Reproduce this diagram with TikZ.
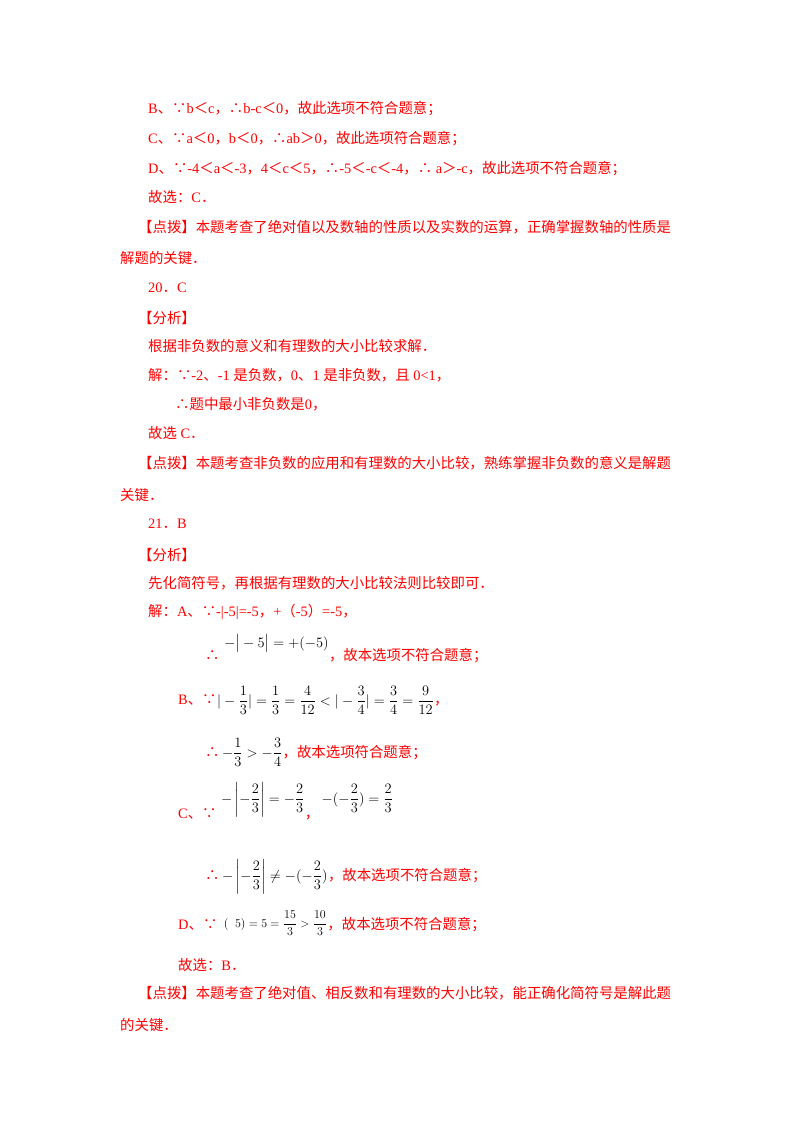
\documentclass[tikz,border=0pt]{standalone}
\usepackage{amsmath}
\usepackage{fontspec}
\setmainfont{Liberation Serif}
\newfontfamily\cj{Noto Sans CJK SC}
\newcommand{\cc}[1]{{\cj #1}}
\begin{document}
\begin{tikzpicture}[x=1pt,y=-1pt,
  t/.style={anchor=base west,inner sep=0pt,text=red,font=\fontsize{14.4}{17}\selectfont},
  m/.style={anchor=base west,inner sep=0pt,text=black,font=\fontsize{15}{18}\selectfont}]
\useasboundingbox (0,0) rectangle (800,1132);
\node[t] (l1) at (148,113) {B\cc{、∵}b\cc{＜}c\cc{，∴}b-c\cc{＜}0\cc{，故此选项不符合题意；}};
\node[t] (l2) at (148,143) {C\cc{、∵}a\cc{＜}0\cc{，}b\cc{＜}0\cc{，∴}ab\cc{＞}0\cc{，故此选项符合题意；}};
\node[t] (l3) at (148,173) {D\cc{、∵}-4\cc{＜}a\cc{＜}-3\cc{，}4\cc{＜}c\cc{＜}5\cc{，∴}-5\cc{＜}-c\cc{＜}-4\cc{，∴} a\cc{＞}-c\cc{，故此选项不符合题意；}};
\node[t] (l4) at (148,202) {\cc{故选：}C\cc{．}};
\node[t] (l5) at (138,232) {\cc{【点拨】本题考查了绝对值以及数轴的性质以及实数的运算，正确掌握数轴的性质是}};
\node[t] (l6) at (120,263) {\cc{解题的关键．}};
\node[t] (l7) at (148,292) {20\cc{．}C};
\node[t] (l8) at (138,323) {\cc{【分析】}};
\node[t] (l9) at (148,351) {\cc{根据非负数的意义和有理数的大小比较求解．}};
\node[t] (l10) at (148,380) {\cc{解：∵}-2\cc{、}-1 \cc{是负数，}0\cc{、}1 \cc{是非负数，且} 0<1\cc{，}};
\node[t] (l11) at (175,409) {\cc{∴题中最小非负数是}0\cc{，}};
\node[t] (l12) at (148,438) {\cc{故选} C\cc{．}};
\node[t] (l13) at (138,468) {\cc{【点拨】本题考查非负数的应用和有理数的大小比较，熟练掌握非负数的意义是解题}};
\node[t] (l14) at (120,500) {\cc{关键．}};
\node[t] (l15) at (148,528) {21\cc{．}B};
\node[t] (l16) at (138,560) {\cc{【分析】}};
\node[t] (l17) at (148,588) {\cc{先化简符号，再根据有理数的大小比较法则比较即可．}};
\node[t] (l18) at (148,616) {\cc{解：}A\cc{、∵}-|-5|=-5\cc{，}+\cc{（}-5\cc{）}=-5\cc{，}};
% A conclusion
\node[t] (a1) at (205,660) {\cc{∴}};
\node[m,yshift=13pt] (a2) at ([xshift=4pt]a1.base east) {$-\big|-5\big|=+(-5)$};
\node[t] (a3) at (a2.base east |- a1.base) {\cc{，故本选项不符合题意；}};
% B
\node[t] (b1) at (178,704) {B\cc{、∵}};
\node[m] (b2) at ([yshift=-1pt]b1.base east) {$|-\dfrac{1}{3}|=\dfrac{1}{3}=\dfrac{4}{12}<|-\dfrac{3}{4}|=\dfrac{3}{4}=\dfrac{9}{12}$};
\node[t] (b3) at (b2.base east |- b1.base) {\cc{，}};
\node[t] (b4) at (205,757) {\cc{∴}};
\node[m] (b5) at ([xshift=2pt]b4.base east) {$-\dfrac{1}{3}>-\dfrac{3}{4}$};
\node[t] (b6) at (b5.base east |- b4.base) {\cc{，故本选项符合题意；}};
% C
\node[t] (c1) at (178,818) {C\cc{、∵}};
\node[m,yshift=15pt] (c2) at ([xshift=4pt]c1.base east) {$-\left|-\dfrac{2}{3}\right|=-\dfrac{2}{3}$};
\node[t] (c3) at (c2.base east |- c1.base) {\cc{，}};
\node[m] (c4) at ([xshift=2pt]c3.base east |- c2.base) {$-(-\dfrac{2}{3})=\dfrac{2}{3}$};
\node[t] (c5) at (205,880) {\cc{∴}};
\node[m] (c6) at ([xshift=2pt]c5.base east) {$-\left|-\dfrac{2}{3}\right|\neq-(-\dfrac{2}{3})$};
\node[t] (c7) at (c6.base east |- c5.base) {\cc{，故本选项不符合题意；}};
% D
\node[t] (d1) at (178,929) {D\cc{、∵}};
\node[m,font=\fontsize{12}{14}\selectfont,yshift=2pt] (d2) at ([xshift=6pt]d1.base east) {$(\;\;5)=5=\dfrac{15}{3}>\dfrac{10}{3}$};
\node[t] (d3) at (d2.base east |- d1.base) {\cc{，故本选项不符合题意；}};
\node[t] (l19) at (178,970) {\cc{故选：}B\cc{．}};
\node[t] (l20) at (138,998) {\cc{【点拨】本题考查了绝对值、相反数和有理数的大小比较，能正确化简符号是解此题}};
\node[t] (l21) at (120,1030) {\cc{的关键．}};
\end{tikzpicture}
\end{document}
